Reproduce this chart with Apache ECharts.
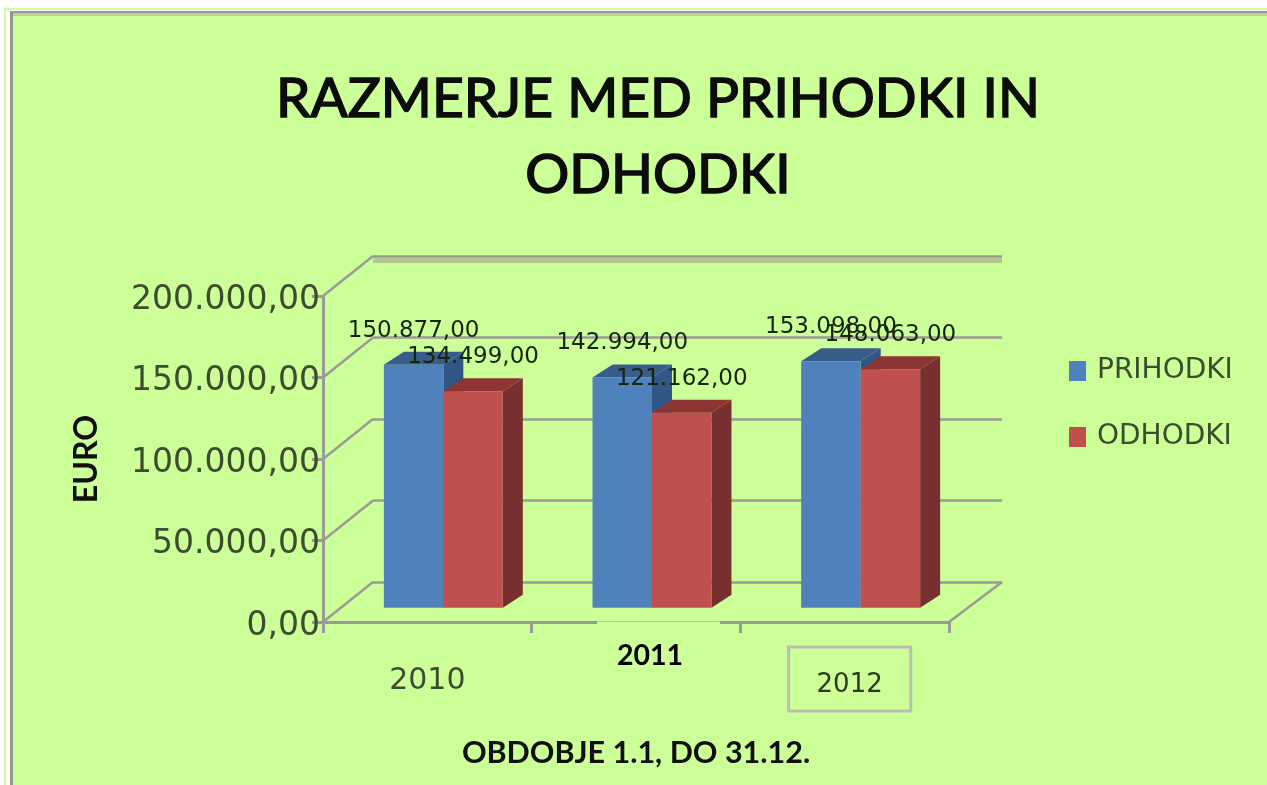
<!DOCTYPE html>
<html>
<head>
<meta charset="utf-8">
<title>Razmerje med prihodki in odhodki</title>
<script src="https://cdn.jsdelivr.net/npm/echarts@6/dist/echarts.min.js"></script>
<style>
    html, body { margin: 0; padding: 0; background: #fff; }
    #chart { width: 1267px; height: 785px; filter: blur(0.6px); }
</style>
</head>
<body>
<div id="chart"></div>
<script>
var years = ['2010', '2011', '2012'];
var prihodki = [150877, 142994, 153098];
var odhodki = [134499, 121162, 148063];
var yTickValues = [0, 50000, 100000, 150000, 200000];
var yTickLabels = ['0,00', '50.000,00', '100.000,00', '150.000,00', '200.000,00'];
var valueLabelsPrihodki = ['150.877,00', '142.994,00', '153.098,00'];
var valueLabelsOdhodki = ['134.499,00', '121.162,00', '148.063,00'];

var BG = '#cdff99';
var AXIS_GREY = '#9a9a96';
var TEXT_DARK = '#3c4c2e';
var FONT = '"DejaVu Sans", sans-serif';
var HEAD_FONT = 'Lato, "Open Sans", sans-serif';

// fake 3D: bars get a small extrusion, the walls a bigger one
function barItem(labels, slot, colors) {
    return function (params, api) {
        var cat = api.value(0);
        var top = api.coord([cat, api.value(1)]);
        var base = api.coord([cat, 0]);
        var w = api.size([1, 0])[0] * 0.285;
        var x = top[0] + slot * w;
        var dx = 20, dy = -13;
        return {
            type: 'group',
            children: [
                { type: 'polygon', shape: { points: [[x + w, top[1]], [x + w + dx, top[1] + dy], [x + w + dx, base[1] + dy], [x + w, base[1]]] }, style: { fill: colors.side } },
                { type: 'polygon', shape: { points: [[x, top[1]], [x + dx, top[1] + dy], [x + w + dx, top[1] + dy], [x + w, top[1]]] }, style: { fill: colors.top } },
                { type: 'rect', shape: { x: x, y: top[1], width: w, height: base[1] - top[1] }, style: { fill: colors.front } },
                {
                    type: 'text', z2: 50,
                    style: { x: x + w / 2, y: top[1] - 34, text: labels[params.dataIndex], font: '23px ' + FONT, fill: '#16240e', align: 'center', verticalAlign: 'middle' }
                }
            ]
        };
    };
}

function depthItem(params, api) {
    var v = api.value(0);
    var p = api.coord([0, v]);
    var left = p[0] - api.size([1, 0])[0] / 2;
    var lineStyle = { stroke: AXIS_GREY, lineWidth: 2.5 };
    var children = [
        { type: 'line', shape: { x1: left, y1: p[1], x2: left + 50, y2: p[1] - 40 }, style: lineStyle }
    ];
    if (v === 0) {
        var right = left + api.size([1, 0])[0] * years.length;
        children.push({ type: 'line', shape: { x1: right, y1: p[1], x2: right + 53, y2: p[1] - 40 }, style: lineStyle });
    }
    if (v === 200000) {
        children.push({ type: 'rect', z2: -1, shape: { x: left + 50, y: p[1] - 38, width: 629, height: 5 }, style: { fill: '#b3c98f' } });
    }
    return { type: 'group', children: children };
}

var chart = echarts.init(document.getElementById('chart'));

var option = {
    animation: false,
    backgroundColor: '#fff',
    title: {
        text: 'RAZMERJE MED PRIHODKI IN\nODHODKI',
        left: 658,
        top: 61,
        padding: 0,
        textAlign: 'center',
        textStyle: { fontFamily: HEAD_FONT, fontSize: 55, fontWeight: 'normal', color: '#0c0c0c', textBorderColor: '#0c0c0c', textBorderWidth: 1.6, lineHeight: 76 }
    },
    legend: {
        orient: 'vertical',
        left: 1069,
        top: 357,
        padding: 0,
        icon: 'rect',
        itemWidth: 17,
        itemHeight: 20,
        itemGap: 38,
        data: ['PRIHODKI', 'ODHODKI'],
        textStyle: { fontFamily: FONT, fontSize: 28, color: TEXT_DARK, padding: [0, 0, 0, 6] }
    },
    grid: [
        { left: 373, top: 256, width: 629, height: 326 },
        { left: 323, top: 296, width: 626, height: 326 },
        { left: 339, top: 285.7, width: 626, height: 322 }
    ],
    xAxis: [
        { gridIndex: 0, type: 'category', data: years, show: false },
        {
            gridIndex: 1,
            type: 'category',
            data: years,
            name: 'OBDOBJE 1.1, DO 31.12.',
            nameLocation: 'middle',
            nameGap: 116,
            nameTextStyle: { fontFamily: HEAD_FONT, fontSize: 30.5, fontWeight: 'bold', color: '#101010' },
            axisLine: { lineStyle: { color: AXIS_GREY, width: 3 } },
            axisTick: { show: true, length: 11, lineStyle: { color: AXIS_GREY, width: 3 } },
            axisLabel: {
                interval: 0,
                margin: 8,
                formatter: function (value, index) {
                    return index === 2 ? '{gap|}\n{side|}{boxed|' + value + '}' : '{y' + index + '|' + value + '}';
                },
                rich: {
                    y0: { fontFamily: FONT, fontSize: 30, color: TEXT_DARK, padding: [70, 0, 0, 0], lineHeight: 32 },
                    y1: { fontFamily: HEAD_FONT, fontSize: 28.5, fontWeight: 'bold', color: '#000', padding: [20, 0, 0, 28], lineHeight: 32 },
                    gap: { height: 35, lineHeight: 35 },
                    side: { width: 10 },
                    boxed: { fontFamily: FONT, fontSize: 26, color: '#2c3a22', borderColor: '#bdbdb8', borderWidth: 3, padding: [25, 28, 13, 28], lineHeight: 28 }
                }
            }
        },
        { gridIndex: 2, type: 'category', data: years, show: false }
    ],
    yAxis: [
        {
            gridIndex: 0, type: 'value', min: 0, max: 200000, interval: 50000,
            axisLine: { show: false }, axisTick: { show: false }, axisLabel: { show: false },
            splitLine: { lineStyle: { color: AXIS_GREY, width: 2.5 } }
        },
        {
            gridIndex: 1, type: 'value', min: 0, max: 200000, interval: 50000,
            name: 'EURO',
            nameLocation: 'middle',
            nameGap: 220,
            nameRotate: 90,
            nameTextStyle: { fontFamily: HEAD_FONT, fontSize: 32, fontWeight: 'bold', color: '#101010' },
            axisLine: { show: true, lineStyle: { color: AXIS_GREY, width: 3 } },
            axisTick: { show: true, length: 11, lineStyle: { color: AXIS_GREY, width: 3 } },
            splitLine: { show: false },
            axisLabel: {
                margin: 3,
                formatter: function (value) {
                    return '{tick|' + yTickLabels[yTickValues.indexOf(value)] + '}';
                },
                rich: {
                    tick: { fontFamily: FONT, fontSize: 33, color: TEXT_DARK, padding: [8, 0, 0, 0] }
                }
            }
        },
        { gridIndex: 2, type: 'value', min: 0, max: 200000, show: false }
    ],
    series: [
        {
            name: 'depth',
            type: 'custom',
            xAxisIndex: 1,
            yAxisIndex: 1,
            silent: true,
            z: 1,
            renderItem: depthItem,
            encode: { x: 1, y: 0 },
            data: yTickValues.map(function (v) { return [v, 0]; })
        },
        {
            name: 'PRIHODKI',
            type: 'custom',
            xAxisIndex: 2,
            yAxisIndex: 2,
            z: 3,
            itemStyle: { color: '#4f81bd' },
            renderItem: barItem(valueLabelsPrihodki, -1, { front: '#4f81bd', side: '#2f5685', top: '#385d8a' }),
            encode: { x: 0, y: 1 },
            data: prihodki.map(function (v, i) { return [i, v]; })
        },
        {
            name: 'ODHODKI',
            type: 'custom',
            xAxisIndex: 2,
            yAxisIndex: 2,
            z: 4,
            itemStyle: { color: '#c0504d' },
            renderItem: barItem(valueLabelsOdhodki, 0, { front: '#c0504d', side: '#772f30', top: '#8c3533' }),
            encode: { x: 0, y: 1 },
            data: odhodki.map(function (v, i) { return [i, v]; })
        }
    ],
    graphic: [
        // page frame of the pasted screenshot
        { type: 'rect', z: -10, silent: true, shape: { x: 4, y: 8, width: 1263, height: 777 }, style: { fill: BG } },
        { type: 'rect', z: -10, silent: true, shape: { x: 6, y: 10, width: 1261, height: 775 }, style: { fill: '#fff' } },
        { type: 'rect', z: -10, silent: true, shape: { x: 10, y: 11, width: 1257, height: 774 }, style: { fill: '#949691' } },
        { type: 'rect', z: -10, silent: true, shape: { x: 13, y: 13, width: 1254, height: 772 }, style: { fill: '#b9d38f' } },
        { type: 'rect', z: -10, silent: true, shape: { x: 13, y: 16, width: 1254, height: 769 }, style: { fill: BG } },
        // the 2011 label box was pasted over the axis
        { type: 'rect', z: 10, silent: true, shape: { x: 597, y: 621.5, width: 123, height: 3 }, style: { fill: BG } }
    ]
};

chart.setOption(option);
</script>
</body>
</html>
